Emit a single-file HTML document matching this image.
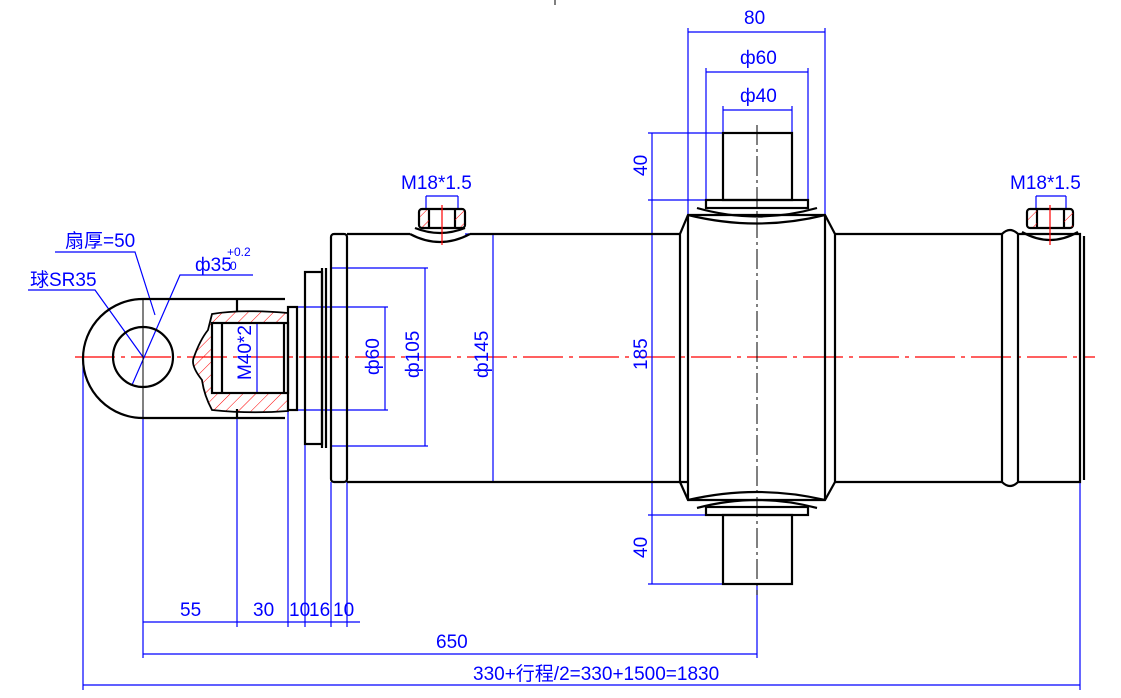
<!DOCTYPE html>
<html><head><meta charset="utf-8"><style>
html,body{margin:0;padding:0;background:#fff;}
svg{display:block;}
text{font-family:"Liberation Sans Narrow","Liberation Sans","Noto Sans CJK SC",sans-serif;fill:#0000ff;font-size:19px;}
</style></head><body>
<svg width="1121" height="698" viewBox="0 0 1121 698" xmlns="http://www.w3.org/2000/svg">
<defs>
<pattern id="h" width="9" height="9" patternUnits="userSpaceOnUse" patternTransform="rotate(45)">
<line x1="0" y1="0" x2="0" y2="9" stroke="#ff0000" stroke-width="1"/></pattern>
</defs>
<line x1="555" y1="0" x2="555" y2="5" stroke="#000"/>
<!-- centerline -->
<line x1="75" y1="357" x2="1095" y2="357" stroke="#ff0000" stroke-width="1.2" stroke-dasharray="40,6,4,6"/>

<g stroke="#0000ff" stroke-width="1.2" fill="none">
<!-- bottom dims -->
<line x1="83" y1="357" x2="83" y2="690"/>
<line x1="143" y1="410" x2="143" y2="658"/>
<line x1="237" y1="418" x2="237" y2="627"/>
<line x1="288" y1="410" x2="288" y2="627"/>
<line x1="305" y1="444" x2="305" y2="627"/>
<line x1="331" y1="482" x2="331" y2="627"/>
<line x1="347" y1="482" x2="347" y2="627"/>
<line x1="143" y1="622" x2="360" y2="622"/>
<line x1="143" y1="654" x2="757" y2="654"/>
<line x1="757" y1="584" x2="757" y2="658"/>
<line x1="83" y1="685" x2="1080" y2="685"/>
<line x1="1080" y1="482" x2="1080" y2="690"/>
<!-- diameters -->
<line x1="296" y1="307" x2="388" y2="307"/><line x1="296" y1="410" x2="388" y2="410"/><line x1="385" y1="307" x2="385" y2="410"/>
<line x1="330" y1="268" x2="428" y2="268"/><line x1="330" y1="446" x2="428" y2="446"/><line x1="425" y1="268" x2="425" y2="446"/>
<line x1="465" y1="234" x2="496" y2="234"/><line x1="493" y1="234" x2="493" y2="482"/>
<line x1="257" y1="324" x2="257" y2="392"/>
<!-- trunnion dims -->
<line x1="688" y1="28" x2="688" y2="215"/><line x1="825" y1="28" x2="825" y2="215"/><line x1="688" y1="32" x2="825" y2="32"/>
<line x1="706" y1="68" x2="706" y2="200"/><line x1="808" y1="68" x2="808" y2="200"/><line x1="706" y1="72" x2="808" y2="72"/>
<line x1="723" y1="106" x2="723" y2="133"/><line x1="792" y1="106" x2="792" y2="133"/><line x1="723" y1="110" x2="792" y2="110"/>
<line x1="648" y1="133" x2="725" y2="133"/><line x1="648" y1="200" x2="708" y2="200"/>
<line x1="648" y1="515" x2="708" y2="515"/><line x1="648" y1="584" x2="725" y2="584"/>
<line x1="652" y1="133" x2="652" y2="584"/>
<!-- ports -->
<line x1="426" y1="196" x2="458" y2="196"/><line x1="426" y1="196" x2="426" y2="210"/><line x1="458" y1="196" x2="458" y2="210"/>
<line x1="1036" y1="196" x2="1066" y2="196"/><line x1="1036" y1="196" x2="1036" y2="208"/><line x1="1066" y1="196" x2="1066" y2="208"/>
<!-- leaders -->
<polyline points="55,252 135,252 155,315"/>
<polyline points="28,290 95,290 143,357"/>
<polyline points="253,275 180,275 132,385"/>
</g>

<g stroke="#000" stroke-width="2.2" fill="none">
<!-- eye -->
<path d="M285,299 L143,299 A60,59.5 0 0 0 143,418 L285,418"/>
<circle cx="143" cy="357" r="30"/>
<line x1="237" y1="299" x2="237" y2="312"/><line x1="237" y1="409" x2="237" y2="418"/>
</g>
<line x1="143" y1="300" x2="143" y2="417" stroke="#000" stroke-width="1"/>
<!-- hatched thread -->
<path d="M212,314 Q240,309 288,313 L288,411 Q250,414 212,410 Q204,395 202,380 Q190,365 194,357 Q200,340 208,330 Z M212,323 L212,393 L288,393 L288,323 Z" fill="url(#h)" fill-rule="evenodd" stroke="#000" stroke-width="1.8"/>
<g stroke="#000" stroke-width="2.2" fill="none">
<rect x="212" y="323" width="76" height="70"/>
<line x1="222" y1="323" x2="222" y2="393"/>
<line x1="284" y1="323" x2="284" y2="393"/>
<!-- gland -->
<rect x="288" y="307" width="9" height="103"/>
<rect x="305" y="272" width="17" height="172"/>
<line x1="322" y1="268" x2="322" y2="448"/><line x1="326" y1="268" x2="326" y2="448"/>
<rect x="331" y="234" width="16" height="248" rx="3"/>
<!-- barrel left -->
<path d="M347,234 L410,234 M470,234 L680,234 M347,482 L688,482"/>
<!-- left port -->
<path d="M410,234 Q440,250 470,234 M415,228 Q440,238 465,228"/>
<rect x="419" y="209" width="46" height="19" rx="3"/>
<line x1="429" y1="209" x2="429" y2="228"/><line x1="455" y1="209" x2="455" y2="228"/>
<!-- trunnion body -->
<path d="M688,215 L825,215 L835,234 L835,482 L825,500 L688,500 L680,482 L680,234 Z"/>
<line x1="688" y1="215" x2="688" y2="500"/><line x1="825" y1="215" x2="825" y2="500"/>
<path d="M688,215 Q757,232 825,215 M697,208 Q757,225 817,208"/>
<path d="M688,500 Q757,484 825,500 M697,508 Q757,492 817,508"/>
<rect x="706" y="200" width="102" height="8"/>
<rect x="706" y="507" width="102" height="8"/>
<rect x="723" y="133" width="69" height="67"/>
<rect x="723" y="515" width="69" height="69"/>
<!-- right barrel -->
<path d="M835,234 L1002,234 M835,482 L1002,482"/>
<path d="M1002,234 Q1010,226 1018,234 L1018,482 Q1010,490 1002,482 Z"/>
<path d="M1018,234 L1080,234 L1080,482 L1018,482"/>
<line x1="1084" y1="236" x2="1084" y2="480"/>
<path d="M1022,232 Q1050,248 1078,232"/>
<rect x="1027" y="209" width="46" height="19" rx="3"/>
<line x1="1037" y1="209" x2="1037" y2="228"/><line x1="1064" y1="209" x2="1064" y2="228"/>
</g>
<g stroke="#000" stroke-width="1" stroke-dasharray="20,4,3,4">
<line x1="757" y1="125" x2="757" y2="595"/>
</g>
<g stroke="#ff0000" stroke-width="1.2">
<line x1="442" y1="205" x2="442" y2="245"/><line x1="1050" y1="205" x2="1050" y2="245"/>
</g>
<rect x="420" y="210" width="9" height="17" fill="url(#h)"/><rect x="455" y="210" width="9" height="17" fill="url(#h)"/>
<rect x="1028" y="210" width="9" height="17" fill="url(#h)"/><rect x="1064" y="210" width="9" height="17" fill="url(#h)"/>

<!-- texts -->
<text x="401" y="189">M18*1.5</text>
<text x="1010" y="189">M18*1.5</text>
<text x="744" y="24">80</text>
<text x="740" y="64">ф60</text>
<text x="740" y="102">ф40</text>
<text x="65" y="247">扇厚=50</text>
<text x="30" y="286">球SR35</text>
<text x="195" y="271">ф35</text>
<text x="227" y="256" style="font-size:12px">+0.2</text>
<text x="230" y="270" style="font-size:12px">0</text>
<text x="180" y="616">55</text>
<text x="253" y="616">30</text>
<text x="289" y="616">10</text>
<text x="309" y="616">16</text>
<text x="333" y="616">10</text>
<text x="436" y="648">650</text>
<text x="473" y="680">330+行程/2=330+1500=1830</text>
<text transform="translate(251,380) rotate(-90)">M40*2</text>
<text transform="translate(379,375) rotate(-90)">ф60</text>
<text transform="translate(419,378) rotate(-90)">ф105</text>
<text transform="translate(488,378) rotate(-90)">ф145</text>
<text transform="translate(647,370) rotate(-90)">185</text>
<text transform="translate(647,176) rotate(-90)">40</text>
<text transform="translate(647,558) rotate(-90)">40</text>
</svg>
</body></html>
